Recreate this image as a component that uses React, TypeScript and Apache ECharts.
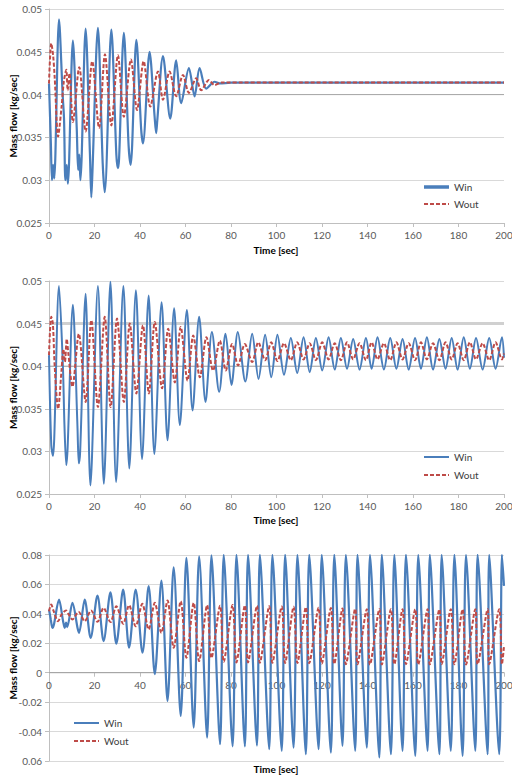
import React, { useEffect, useRef } from "react";
import * as echarts from "echarts";

// ---------- data (time [sec], mass flow [kg/sec]) ----------
const xTickStep = 20;
const panel1YRange = [0.025, 0.05, 0.005];
const panel2YRange = [0.025, 0.05, 0.005];
const panel3YRange = [-0.06, 0.08, 0.02];

const win1: [number, number][] = [
  [0, 0.0413], [0.8, 0.0345], [1.3, 0.03], [1.8, 0.0318], [2.3, 0.0302], [4.4, 0.0488],
  [6.0, 0.04], [6.6, 0.0372], [7.2, 0.03], [7.8, 0.0318], [8.3, 0.0296], [10.5, 0.0463],
  [12.2, 0.036], [12.8, 0.0312], [13.3, 0.033], [13.8, 0.03], [16.1, 0.0477], [18.0, 0.033],
  [18.6, 0.028], [19.1, 0.031], [21.5, 0.0478], [23.6, 0.032], [24.5, 0.0286], [27.4, 0.0476],
  [29.6, 0.033], [30.3, 0.0314], [30.8, 0.0325], [32.9, 0.0472], [35.0, 0.034], [35.9, 0.0318],
  [38.4, 0.0464], [40.5, 0.036], [41.3, 0.0343], [44.2, 0.045], [46.4, 0.0375], [47.1, 0.0355],
  [47.6, 0.037], [50.1, 0.0445], [53.3, 0.0372], [55.9, 0.044], [58.1, 0.039], [61.5, 0.0431],
  [64.0, 0.0398], [66.2, 0.0431], [69.1, 0.0407], [72.8, 0.0415], [75.0, 0.0413], [80, 0.0414],
  [200, 0.0414],
];

const wout1: [number, number][] = [
  [0, 0.0413], [1.0, 0.046], [1.8, 0.0446], [2.5, 0.042], [4.0, 0.0351], [5.5, 0.0385],
  [6.5, 0.0415], [7.6, 0.0429], [8.2, 0.0405], [9.0, 0.0425], [10.5, 0.0368], [13.3, 0.0432],
  [16.1, 0.0357], [19.0, 0.0439], [22.0, 0.0361], [24.6, 0.0447], [27.4, 0.0364], [30.3, 0.0446],
  [32.9, 0.0374], [36.0, 0.0441], [38.7, 0.0382], [41.6, 0.0439], [44.5, 0.0386], [47.9, 0.0427],
  [50.1, 0.0394], [53.0, 0.0427], [55.9, 0.0398], [58.9, 0.0423], [61.5, 0.0402], [64.7, 0.0419],
  [66.9, 0.0405], [70.3, 0.0417], [72.8, 0.0411], [75.7, 0.0414], [200, 0.0414],
];

const win2: [number, number][] = [
  [0, 0.0413], [1.0, 0.0307], [1.75, 0.0295], [2.3, 0.0315], [4.4, 0.0494], [6.1, 0.0401],
  [6.8, 0.033], [7.6, 0.0284], [8.2, 0.0305], [10.5, 0.0472], [12.5, 0.033], [13.1, 0.0286],
  [13.7, 0.03], [16.1, 0.0485], [18.2, 0.026], [21.5, 0.0494], [24.1, 0.0262], [27.0, 0.0499],
  [29.5, 0.0264], [32.7, 0.0494], [35.3, 0.028], [38.2, 0.0489], [40.9, 0.0291], [43.8, 0.0483],
  [46.3, 0.0297], [49.5, 0.0475], [52.1, 0.0313], [55.0, 0.0468], [57.5, 0.0331], [60.6, 0.0466],
  [63.1, 0.0348], [66.0, 0.0458], [68.8, 0.0358], [71.6, 0.044], [74.8, 0.037], [77.6, 0.0438],
  [80.2, 0.0378], [83.0, 0.044], [86.3, 0.0382], [89.3, 0.0438], [92.1, 0.0385], [95.0, 0.0437],
  [97.7, 0.0387], [100.4, 0.0437], [103.3, 0.039], [106.3, 0.0433], [109.1, 0.0392], [111.9, 0.0434],
  [114.6, 0.0393], [117.3, 0.0433], [120.1, 0.0395], [122.9, 0.0434], [125.6, 0.0396], [128.3, 0.0433],
  [131.0, 0.0397], [133.7, 0.0432], [136.5, 0.0396], [139.3, 0.0433], [141.8, 0.0397], [144.4, 0.0434],
  [147.2, 0.0396], [150.0, 0.0433], [152.7, 0.0397], [155.4, 0.0432], [158.1, 0.0396], [160.9, 0.0433],
  [163.5, 0.0397], [166.1, 0.0434], [168.8, 0.0396], [171.6, 0.0432], [174.3, 0.0397], [177.0, 0.0433],
  [179.6, 0.0396], [182.3, 0.0434], [185.0, 0.0397], [187.7, 0.0433], [190.6, 0.0396], [193.5, 0.0433],
  [196.3, 0.0397], [199.1, 0.0434], [200, 0.041],
];

const wout2: [number, number][] = [
  [0, 0.0413], [1.0, 0.0458], [1.7, 0.045], [2.5, 0.04], [4.0, 0.035], [5.5, 0.0395],
  [6.3, 0.042], [7.0, 0.0405], [7.8, 0.0432], [8.5, 0.0415], [10.3, 0.0376], [13.1, 0.0438],
  [16.1, 0.0358], [18.6, 0.0454], [21.5, 0.0352], [24.5, 0.0458], [27.1, 0.0352], [29.9, 0.0456],
  [32.9, 0.0358], [35.5, 0.045], [38.4, 0.0368], [41.3, 0.0448], [43.9, 0.0368], [46.5, 0.0452],
  [49.7, 0.0374], [52.4, 0.0444], [55.3, 0.0381], [57.9, 0.0446], [60.9, 0.0383], [63.4, 0.0436],
  [66.3, 0.0387], [69.2, 0.0434], [72.1, 0.0395], [75.1, 0.043], [77.7, 0.0395], [80.5, 0.0426],
  [83.1, 0.0401], [86.1, 0.0426], [89.3, 0.0405], [92.0, 0.0428], [95.0, 0.0407], [97.7, 0.0428],
  [100.4, 0.0406], [103.3, 0.0427], [106.3, 0.0407], [109.1, 0.0428], [111.9, 0.0408], [114.6, 0.0427],
  [117.3, 0.0407], [120.1, 0.0428], [122.9, 0.0408], [125.6, 0.0427], [128.3, 0.0407], [131.0, 0.0428],
  [133.7, 0.0408], [136.5, 0.0427], [139.3, 0.0407], [141.8, 0.0428], [144.4, 0.0408], [147.2, 0.0427],
  [150.0, 0.0407], [152.7, 0.0428], [155.4, 0.0408], [158.1, 0.0427], [160.9, 0.0407], [163.5, 0.0428],
  [166.1, 0.0408], [168.8, 0.0427], [171.6, 0.0407], [174.3, 0.0428], [177.0, 0.0408], [179.6, 0.0427],
  [182.3, 0.0407], [185.0, 0.0428], [187.7, 0.0408], [190.6, 0.0427], [193.5, 0.0407], [196.3, 0.0428],
  [199.1, 0.0408], [200, 0.0415],
];

const win3: [number, number][] = [
  [0, 0.043], [0.8, 0.036], [1.5, 0.0305], [2.2, 0.033], [4.4, 0.0497], [6.2, 0.035],
  [6.9, 0.0305], [7.5, 0.034], [8.0, 0.031], [10.3, 0.0475], [12.6, 0.03], [13.2, 0.0271],
  [15.7, 0.0497], [18.3, 0.0237], [21.3, 0.0524], [24.0, 0.0215], [27.0, 0.0547], [29.6, 0.0197],
  [32.6, 0.0565], [35.2, 0.017], [38.1, 0.0565], [41.1, 0.0136], [43.8, 0.0588], [46.5, -0.001],
  [49.4, 0.0626], [52.1, -0.0192], [54.8, 0.0716], [57.9, -0.0294], [60.4, 0.078], [63.6, -0.0373],
  [66.0, 0.0791], [69.5, -0.0441], [71.4, 0.0798], [75.2, -0.0486], [76.8, 0.08], [80.7, -0.05],
  [82.4, 0.08], [86.1, -0.05], [87.5, 0.08], [91.4, -0.0495], [92.7, 0.0801], [96.8, -0.052],
  [98.2, 0.08], [102.3, -0.0531], [103.8, 0.0802], [107.5, -0.0509], [109.2, 0.08], [112.9, -0.0554],
  [114.4, 0.0801], [118.5, -0.052], [119.9, 0.08], [123.9, -0.0543], [125.4, 0.0802], [129.0, -0.0497],
  [130.5, 0.08], [134.6, -0.0531], [135.6, 0.0801], [139.7, -0.0509], [141.1, 0.08], [145.2, -0.0576],
  [146.3, 0.0802], [150.3, -0.0554], [151.8, 0.08], [155.4, -0.0531], [156.9, 0.0801], [161.0, -0.0565],
  [162.3, 0.08], [166.4, -0.0531], [167.4, 0.0802], [171.6, -0.0554], [172.6, 0.08], [176.6, -0.0531],
  [178.2, 0.0801], [181.8, -0.0565], [183.3, 0.08], [187.4, -0.0531], [188.4, 0.0802], [192.8, -0.0554],
  [193.5, 0.08], [197.9, -0.0554], [199.1, 0.0801], [200, 0.059],
];

const wout3: [number, number][] = [
  [0, 0.0418], [1.0, 0.0463], [2.0, 0.042], [4.0, 0.035], [5.5, 0.0395], [7.5, 0.0423],
  [8.5, 0.04], [10.3, 0.0362], [13.0, 0.0414], [15.7, 0.035], [18.5, 0.0423], [21.3, 0.0346],
  [24.0, 0.0441], [27.0, 0.0344], [29.6, 0.0452], [32.6, 0.0332], [35.2, 0.0459], [38.1, 0.0316],
  [41.0, 0.0468], [43.8, 0.0294], [46.5, 0.0475], [49.4, 0.0271], [52.1, 0.049], [54.8, 0.017],
  [57.9, 0.0486], [60.4, 0.0102], [63.6, 0.0475], [66.0, 0.0079], [69.5, 0.0459], [71.4, 0.01],
  [75.2, 0.0455], [76.8, 0.0075], [80.7, 0.046], [82.4, 0.007], [86.1, 0.0458], [87.5, 0.007],
  [91.4, 0.0455], [92.7, 0.0068], [96.8, 0.0452], [98.2, 0.0068], [102.3, 0.045], [103.8, 0.0066],
  [107.5, 0.0448], [109.2, 0.0066], [112.9, 0.0445], [114.4, 0.0064], [118.5, 0.0442], [119.9, 0.0062],
  [123.9, 0.044], [125.4, 0.006], [129.0, 0.0436], [130.5, 0.0058], [134.6, 0.0434], [135.6, 0.0058],
  [139.7, 0.0432], [141.1, 0.0056], [145.2, 0.0432], [146.3, 0.0056], [150.3, 0.0431], [151.8, 0.0057],
  [155.4, 0.0432], [156.9, 0.0058], [161.0, 0.0431], [162.3, 0.0056], [166.4, 0.0432], [167.4, 0.0057],
  [171.6, 0.0431], [172.6, 0.0058], [176.6, 0.0432], [178.2, 0.0057], [181.8, 0.0431], [183.3, 0.0056],
  [187.4, 0.0432], [188.4, 0.0058], [192.8, 0.0431], [193.5, 0.0057], [197.9, 0.0431], [199.1, 0.0057],
  [200, 0.018],
];

// emphasised horizontal reference lines
const accent1: [number, number][] = [[0, 0.04], [200, 0.04]];
const accent2a: [number, number][] = [[0, 0.045], [200, 0.045]];
const accent2b: [number, number][] = [[0, 0.04], [200, 0.04]];
const zeroLine3: [number, number][] = [[0, 0], [200, 0]];

const legendNames = ["Win", "Wout"];
const yAxisTitle = "Mass flow [kg/sec]";
const xAxisTitle = "Time [sec]";

// ---------- styles ----------
const BLUE = "#4a7ebb";
const RED = "#be4b48";
const FONT = "Lato";
const LABEL_COLOR = "#595959";
const GRID_COLOR = "#d9d9d9";
const AXIS_COLOR = "#bfbfbf";

// layout of the three plot areas
const GRIDS = [
  { top: 9, height: 214 },
  { top: 281, height: 213 },
  { top: 555, height: 206 },
];
const G3_ZERO_OFFSET = (GRIDS[2].height * (0 - panel3YRange[0])) / (panel3YRange[1] - panel3YRange[0]);

function fmt(v: number, neg06 = false) {
  const r = Math.round(v * 1000) / 1000;
  if (neg06 && Math.abs(r + 0.06) < 1e-9) return "0.06";
  return String(r);
}

function xAxisCfg(gridIndex: number, offset: number, lineColor: string) {
  return {
    type: "value",
    gridIndex,
    min: 0,
    max: 200,
    interval: xTickStep,
    position: "bottom",
    offset,
    axisLine: { show: true, onZero: false, lineStyle: { color: lineColor, width: 1 } },
    axisTick: { show: true, length: 4, lineStyle: { color: AXIS_COLOR } },
    axisLabel: { fontSize: 10, color: LABEL_COLOR, fontFamily: FONT, margin: 7 },
    splitLine: { show: false },
  };
}

function yAxisCfg(gridIndex: number, range: number[], neg06 = false) {
  return {
    type: "value",
    gridIndex,
    min: range[0],
    max: range[1],
    interval: range[2],
    axisLine: { show: true, lineStyle: { color: AXIS_COLOR, width: 1 } },
    axisTick: { show: true, length: 4, lineStyle: { color: AXIS_COLOR } },
    axisLabel: { fontSize: 10, color: LABEL_COLOR, fontFamily: FONT, margin: 7, formatter: (v: number) => fmt(v, neg06) },
    splitLine: { show: true, lineStyle: { color: GRID_COLOR, width: 1 } },
  };
}

function lineSeries(name: string, data: [number, number][], idx: number, color: string, dashed: boolean, width: number) {
  return {
    type: "line",
    name,
    xAxisIndex: idx,
    yAxisIndex: idx,
    data,
    showSymbol: false,
    symbol: "none",
    smooth: 0.3,
    silent: true,
    z: dashed ? 4 : 3,
    lineStyle: { color, width, type: dashed ? [4, 2] : "solid" },
  };
}

function accentSeries(data: [number, number][], idx: number, color: string, width: number) {
  return {
    type: "line",
    name: "",
    xAxisIndex: idx,
    yAxisIndex: idx,
    data,
    showSymbol: false,
    symbol: "none",
    silent: true,
    z: 1,
    lineStyle: { color, width },
  };
}

function legendGraphics(x: number, y1: number, y2: number, winWidth: number) {
  return [
    { type: "line", shape: { x1: x, y1, x2: x + 25, y2: y1 }, style: { stroke: BLUE, lineWidth: winWidth } },
    { type: "text", x: x + 30, y: y1, style: { text: legendNames[0], fontSize: 10, fontFamily: FONT, fill: "#404040", verticalAlign: "middle" } },
    { type: "line", shape: { x1: x, y1: y2, x2: x + 25, y2 }, style: { stroke: RED, lineWidth: 2, lineDash: [4, 2] } },
    { type: "text", x: x + 30, y: y2, style: { text: legendNames[1], fontSize: 10, fontFamily: FONT, fill: "#404040", verticalAlign: "middle" } },
  ];
}

function titleGraphic(y: number) {
  return {
    type: "text",
    x: 276,
    y,
    style: { text: xAxisTitle, fontSize: 10, fontWeight: "bold", fontFamily: FONT, fill: "#000", align: "center", verticalAlign: "middle" },
  };
}

function yTitleGraphic(g: { top: number; height: number }) {
  return {
    type: "text",
    x: 13,
    y: g.top + g.height / 2,
    rotation: Math.PI / 2,
    style: { text: yAxisTitle, fontSize: 10, fontWeight: "bold", fontFamily: FONT, fill: "#000", align: "center", verticalAlign: "middle" },
  };
}

export default function App() {
  const ref = useRef<HTMLDivElement>(null);
  useEffect(() => {
    if (!ref.current) return;
    const chart = echarts.init(ref.current, null, { renderer: "svg" });
    const option: any = {
      animation: false,
      backgroundColor: "#ffffff",
      textStyle: { fontFamily: FONT },
      grid: GRIDS.map((g) => ({ left: 49, right: 8, top: g.top, height: g.height, containLabel: false, outerBoundsMode: "none" })),
      xAxis: [
        xAxisCfg(0, 0, AXIS_COLOR),
        xAxisCfg(1, 0, AXIS_COLOR),
        xAxisCfg(2, -G3_ZERO_OFFSET, "#a6a6a6"),
      ],
      yAxis: [yAxisCfg(0, panel1YRange), yAxisCfg(1, panel2YRange), yAxisCfg(2, panel3YRange, true)],
      series: [
        accentSeries(accent1, 0, "#a6a6a6", 1),
        accentSeries(accent2a, 1, "#d0d0d0", 3),
        accentSeries(accent2b, 1, "#a6a6a6", 1),
        accentSeries(zeroLine3, 2, "#a6a6a6", 1),
        lineSeries(legendNames[0], win1, 0, BLUE, false, 2.2),
        lineSeries(legendNames[1], wout1, 0, RED, true, 2),
        lineSeries(legendNames[0], win2, 1, BLUE, false, 2),
        lineSeries(legendNames[1], wout2, 1, RED, true, 2),
        lineSeries(legendNames[0], win3, 2, BLUE, false, 2.2),
        lineSeries(legendNames[1], wout3, 2, RED, true, 2),
      ],
      graphic: [
        ...legendGraphics(424, 187, 204, 3.5),
        ...legendGraphics(424, 457, 475, 2),
        ...legendGraphics(74, 723, 741, 2),
        titleGraphic(250),
        titleGraphic(520),
        titleGraphic(769),
        ...GRIDS.map(yTitleGraphic),
      ],
    };
    chart.setOption(option);
    return () => chart.dispose();
  }, []);
  return (
    <div
      ref={ref}
      style={{ position: "absolute", left: 0, top: 0, width: 512, height: 778, background: "#fff" }}
    />
  );
}
